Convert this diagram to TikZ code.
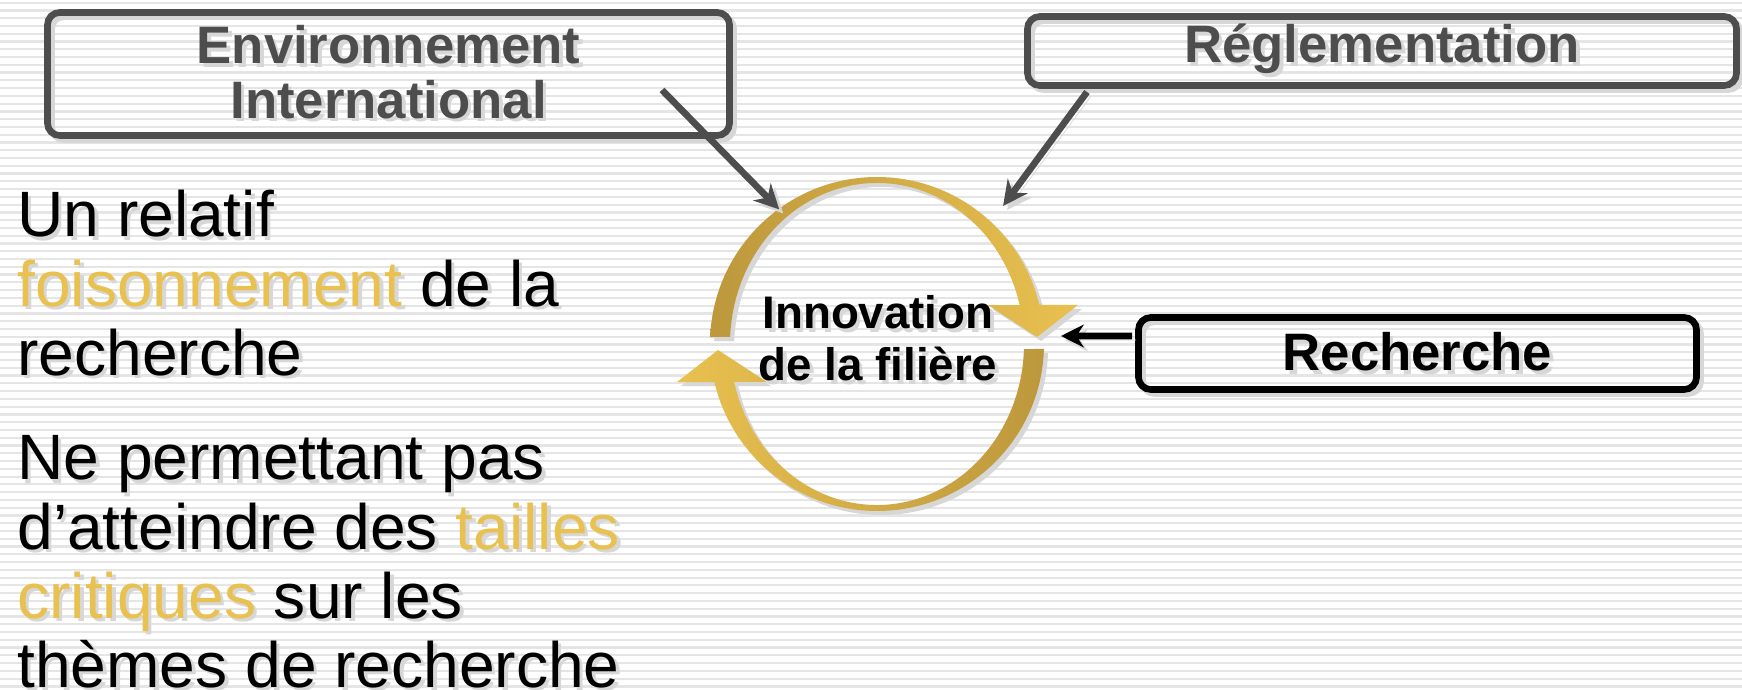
\documentclass[tikz,border=0pt]{standalone}
\usepackage{fontspec}
\setmainfont{Liberation Sans}
\usetikzlibrary{arrows.meta, calc, positioning}

\definecolor{darkbox}{RGB}{77,77,77}
\definecolor{goldlight}{RGB}{233,193,80}
\definecolor{golddark}{RGB}{189,152,60}
\definecolor{shadowgray}{RGB}{215,215,215}
\definecolor{stripegray}{RGB}{229,229,229}

\newdimen\pxu \pxu=0.02cm
\newdimen\shoff \shoff=2pt
\newif\ifshadow
% golden words, plain in the shadow copy
\newcommand\gold[1]{\ifshadow#1\else\textcolor{goldlight}{#1}\fi}
% text with a grey copy behind it
\newcommand\shtext[1]{\leavevmode\rlap{\shadowtrue\kern\shoff\raisebox{-\shoff}{\color{shadowgray}#1}}#1}

\tikzstyle{box}    = [draw, line width=3.8pt, rounded corners=7pt, inner sep=0pt, align=center, font=\bfseries\fontsize{30}{31}\selectfont, preaction={draw=shadowgray, transform canvas={xshift=2.3pt, yshift=-2.3pt}}]
\tikzstyle{arrow}  = [line width=3.8pt, -{Stealth[length=14pt, width=14pt]}, preaction={draw=shadowgray, transform canvas={xshift=2.3pt, yshift=-2.3pt}}]
\tikzstyle{loop}   = [preaction={fill=shadowgray, transform canvas={xshift=2.3pt, yshift=-2.3pt}}]
\tikzstyle{body}   = [anchor=base west, inner sep=0pt, font=\fontsize{36.5}{39.3}\selectfont]
\tikzstyle{core}   = [align=center, inner sep=0pt, font=\bfseries\fontsize{26}{29.6}\selectfont]

\begin{document}
\begin{tikzpicture}[x=0.02cm, y=0.02cm]

% striped page
\useasboundingbox (0,0) rectangle (1742,690);
\fill[white] (0,0) rectangle (1742,690);
\foreach \k in {0,...,88}
  \fill[stripegray] (0,{687.36-\k*7.77-1.1}) rectangle (1742,{687.36-\k*7.77+1.1});

% boxes
\node[box, draw=darkbox, text=darkbox, minimum width=682*\pxu, minimum height=123*\pxu] (env) at (388.5,616) {\shtext{Environnement}\\\shtext{International}};
\node[box, draw=darkbox, text=darkbox, minimum width=709*\pxu, minimum height=69*\pxu] (regl) at (1382,639) {\shtext{Réglementation}};
\node[box, draw=black, text=black, minimum width=558*\pxu, minimum height=72*\pxu] (rech) at (1417.5,336.5) {\shtext{Recherche}};

% cycle
\coordinate (ctr) at (877,346);
\node[circle, minimum size=332*\pxu, inner sep=0pt] (ring) at (ctr) {};

\path[loop, left color=golddark, right color=goldlight]
  (877,346) ++(177.6:167) arc[start angle=177.6, end angle=13.6, radius=167]
  -- (1078,385) -- (1037,353) -- (988,385)
  -- ($(877,346)+(14:147 and 161)$) arc[start angle=14, end angle=177.5, x radius=147, y radius=161] -- cycle;
\path[loop, left color=goldlight, right color=golddark]
  (877,346) ++(-1.7:167) arc[start angle=-1.7, end angle=-166.8, radius=167]
  -- (677,308) -- (718,340) -- (767,308)
  -- ($(877,346)+(-166.35:147 and 161)$) arc[start angle=-166.35, end angle=-1.8, x radius=147, y radius=161] -- cycle;

\node[core] (innov) at (878,350) {\shtext{Innovation}\\\shtext{de la filière}};

% influences
\coordinate (envfoot) at (662,600);
\coordinate (reglfoot) at (1087,598);
\coordinate (reglhit) at ($(ctr)+(47.6:187)$);
\coordinate (rechfoot) at ($(rech.west)+(-3,17.5)$);
\coordinate (rechhit) at (1061,354);

\draw[arrow, draw=darkbox] (envfoot) -- (ring.126);
\draw[arrow, draw=darkbox] (reglfoot) -- (reglhit);
\draw[arrow, draw=black, -{Stealth[length=13pt, width=13pt]}] (rechfoot) -- (rechhit);

% left column, one node per line
\node[body] (p1a) at (17,453) {\shtext{Un relatif}};
\node[body] (p1b) at ([yshift=-39.3pt]p1a.base west) {\shtext{\gold{foisonnement} de la}};
\node[body] (p1c) at ([yshift=-39.3pt]p1b.base west) {\shtext{recherche}};

\node[body] (p2a) at (17,210) {\shtext{Ne permettant pas}};
\node[body] (p2b) at ([yshift=-39.3pt]p2a.base west) {\shtext{d’atteindre des \gold{tailles}}};
\node[body] (p2c) at ([yshift=-39.3pt]p2b.base west) {\shtext{\gold{critiques} sur les}};
\node[body] (p2d) at ([yshift=-39.3pt]p2c.base west) {\shtext{thèmes de recherche}};

\end{tikzpicture}
\end{document}
